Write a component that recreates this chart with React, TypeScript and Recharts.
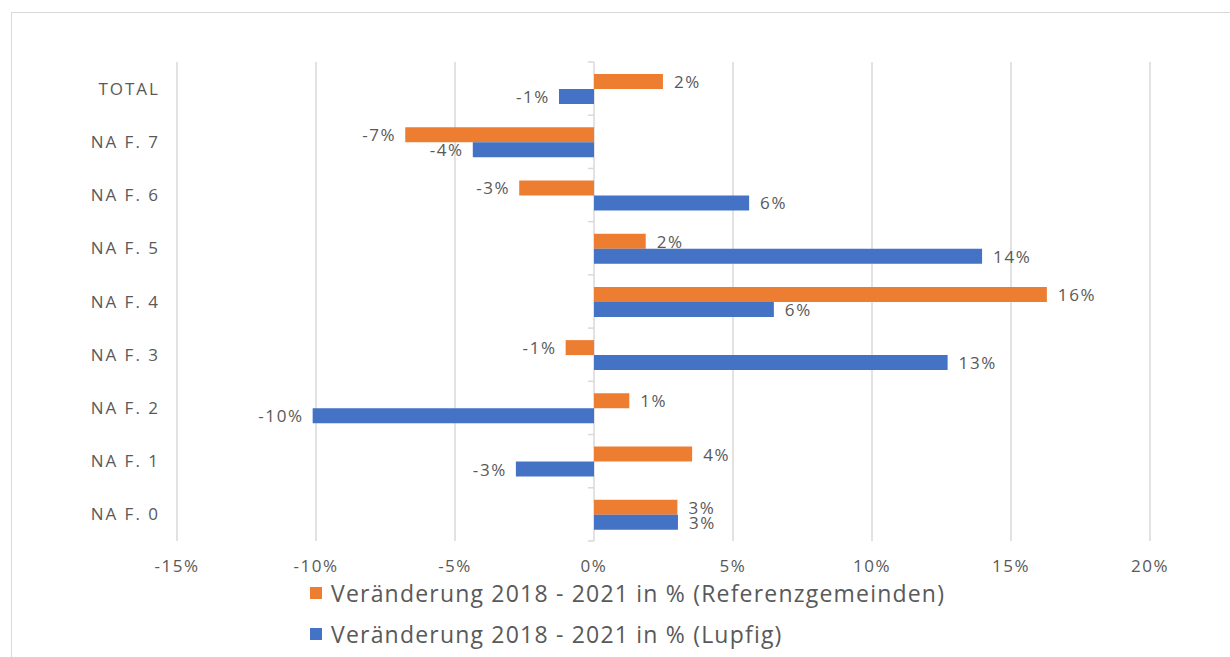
import {
  BarChart,
  Bar,
  XAxis,
  YAxis,
  CartesianGrid,
  ReferenceLine,
  LabelList,
  Legend,
} from "recharts"

const categories = [
  "TOTAL",
  "NA F. 7",
  "NA F. 6",
  "NA F. 5",
  "NA F. 4",
  "NA F. 3",
  "NA F. 2",
  "NA F. 1",
  "NA F. 0",
]

// Veränderung in %
const referenzgemeinden = [2.48, -6.79, -2.69, 1.86, 16.29, -1.02, 1.27, 3.53, 3.0]
const lupfig = [-1.26, -4.36, 5.58, 13.96, 6.47, 12.72, -10.12, -2.81, 3.02]

const xTicks = [-15, -10, -5, 0, 5, 10, 15, 20]

const seriesNames = [
  "Veränderung 2018 - 2021 in % (Referenzgemeinden)",
  "Veränderung 2018 - 2021 in % (Lupfig)",
]

const ORANGE = "#ED7D31"
const BLUE = "#4472C4"
const TEXT = "#595959"
const GRID = "#d9d9d9"
const FONT = "'Open Sans', sans-serif"

const data = categories.map((name, i) => ({
  name,
  referenz: referenzgemeinden[i],
  lupfig: lupfig[i],
}))

const renderLabel = (props: any) => {
  const { x, y, width, height, value } = props
  const x1 = Number(x)
  const w = Number(width)
  const start = Math.min(x1, x1 + w)
  const end = Math.max(x1, x1 + w)
  const neg = Number(value) < 0
  return (
    <text
      x={neg ? start - 9 : end + 11}
      y={Number(y) + Number(height) / 2}
      textAnchor={neg ? "end" : "start"}
      dominantBaseline="central"
      fill={TEXT}
      fontSize={17}
      fontFamily={FONT}
      letterSpacing={1.6}
    >
      {`${Math.round(Number(value))}%`}
    </text>
  )
}

const renderLegend = (props: any) => {
  const items = [...(props.payload || [])].sort(
    (a: any, b: any) => seriesNames.indexOf(a.value) - seriesNames.indexOf(b.value)
  )
  return (
    <div style={{ height: 70, position: "relative" }}>
      {items.map((entry: any, i: number) => (
        <div
          key={`leg-${i}`}
          style={{
            position: "absolute",
            left: 310,
            top: i * 41 - 2,
            height: 28,
            display: "flex",
            alignItems: "center",
            fontFamily: FONT,
            fontSize: 23,
            letterSpacing: 1.2,
            color: TEXT,
            whiteSpace: "nowrap",
          }}
        >
          <span
            style={{
              display: "inline-block",
              width: 12,
              height: 12,
              background: entry.color,
              marginRight: 9,
            }}
          />
          {entry.value}
        </div>
      ))}
    </div>
  )
}

export default function App() {
  return (
    <div
      style={{
        position: "absolute",
        left: 0,
        top: 0,
        width: 1230,
        height: 657,
        overflow: "hidden",
        background: "#fff",
      }}
    >
      <div
        style={{
          position: "absolute",
          left: 11,
          top: 12,
          width: 1300,
          height: 700,
          border: `1px solid ${GRID}`,
        }}
      />
      <div style={{ position: "absolute", left: 0, top: 0 }}>
        <BarChart
          width={1230}
          height={657}
          data={data}
          layout="vertical"
          margin={{ top: 62, right: 80, bottom: 6, left: 17 }}
          barGap={0}
          barSize={15}
        >
          <CartesianGrid horizontal={false} stroke={GRID} strokeWidth={1.5} />
          <XAxis
            type="number"
            domain={[-15, 20]}
            ticks={xTicks}
            tickFormatter={(v: number) => `${v}%`}
            axisLine={false}
            tickLine={false}
            tickSize={0}
            tickMargin={19}
            height={40}
            tick={{ fill: TEXT, fontSize: 17, fontFamily: FONT, letterSpacing: 1.5 }}
          />
          <YAxis
            type="category"
            dataKey="name"
            width={160}
            axisLine={false}
            tickLine={false}
            tickSize={0}
            tickMargin={17}
            tick={{ fill: TEXT, fontSize: 17, fontFamily: FONT, letterSpacing: 2 }}
          />
          {categories.map((c) => (
            <ReferenceLine
              key={`tick-${c}`}
              segment={[
                { x: -0.22, y: c },
                { x: 0, y: c },
              ]}
              position="start"
              stroke={GRID}
              strokeWidth={1.5}
            />
          ))}
          <ReferenceLine
            segment={[
              { x: -0.22, y: categories[categories.length - 1] },
              { x: 0, y: categories[categories.length - 1] },
            ]}
            position="end"
            stroke={GRID}
            strokeWidth={1.5}
          />
          <Legend
            verticalAlign="bottom"
            content={renderLegend}
            wrapperStyle={{ left: 0, width: 1230, bottom: 6 }}
          />
          <Bar dataKey="referenz" name={seriesNames[0]} fill={ORANGE} isAnimationActive={false}>
            <LabelList dataKey="referenz" content={renderLabel} />
          </Bar>
          <Bar dataKey="lupfig" name={seriesNames[1]} fill={BLUE} isAnimationActive={false}>
            <LabelList dataKey="lupfig" content={renderLabel} />
          </Bar>
        </BarChart>
      </div>
    </div>
  )
}
